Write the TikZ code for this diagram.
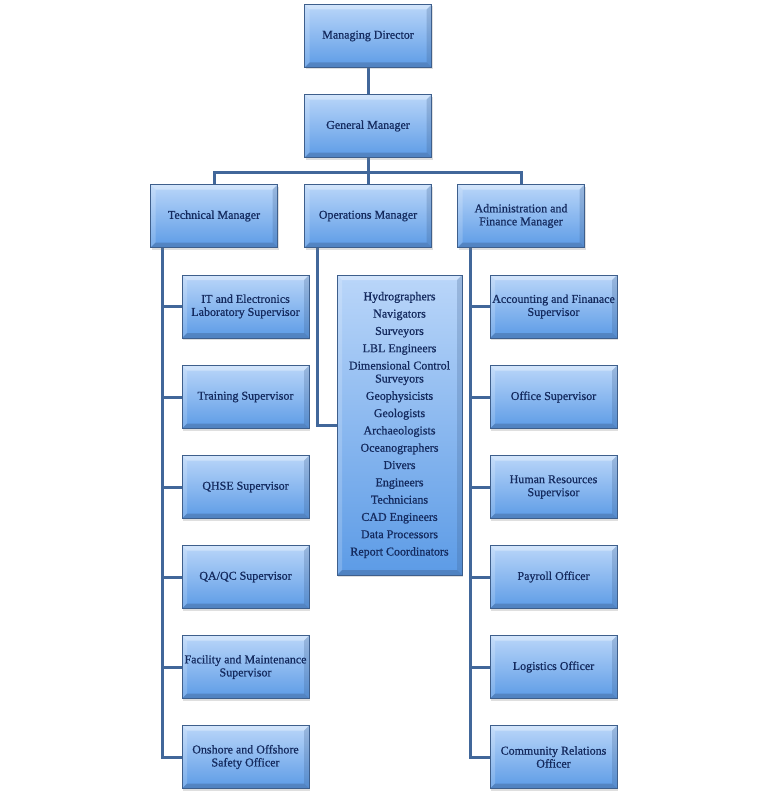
\documentclass[tikz,border=0pt]{standalone}
\usepackage{fontspec}
\setmainfont{Liberation Serif}[BoldFont=Liberation Serif, BoldFeatures={FakeBold=0.8}]
\usetikzlibrary{shadows,backgrounds,calc}
\definecolor{boxtop}{HTML}{BAD6F9}
\definecolor{boxbot}{HTML}{5C9BE6}
\definecolor{boxedge}{HTML}{3E5F8C}
\definecolor{txt}{HTML}{142A5E}
\definecolor{wire}{HTML}{41679A}
\tikzset{
  orgbox/.style={draw=boxedge, line width=0.6pt, top color=boxtop, bottom color=boxbot,
    minimum width=127pt, minimum height=63pt, align=center, text=txt, inner sep=2pt,
    font=\fontsize{12}{13}\selectfont\bfseries,
    drop shadow={opacity=.25, shadow xshift=1pt, shadow yshift=-2pt},
    path picture={
      \fill[white,opacity=.35] (path picture bounding box.north west) -- (path picture bounding box.north east)
        -- ([shift={(-5pt,-5pt)}]path picture bounding box.north east) -- ([shift={(5pt,-5pt)}]path picture bounding box.north west) -- cycle;
      \fill[white,opacity=.18] (path picture bounding box.north west) -- ([shift={(5pt,-5pt)}]path picture bounding box.north west)
        -- ([shift={(5pt,5pt)}]path picture bounding box.south west) -- (path picture bounding box.south west) -- cycle;
      \fill[boxedge,opacity=.25] (path picture bounding box.north east) -- ([shift={(-5pt,-5pt)}]path picture bounding box.north east)
        -- ([shift={(-5pt,5pt)}]path picture bounding box.south east) -- (path picture bounding box.south east) -- cycle;
      \fill[boxedge,opacity=.4] (path picture bounding box.south west) -- ([shift={(5pt,5pt)}]path picture bounding box.south west)
        -- ([shift={(-5pt,5pt)}]path picture bounding box.south east) -- (path picture bounding box.south east) -- cycle;
    }},
  wires/.style={draw=wire, line width=3pt}
}
\begin{document}
\begin{tikzpicture}[x=1pt,y=-1pt]
\useasboundingbox (0,0) rectangle (767,800);
% top
\node[orgbox] (md) at (368,36) {Managing Director};
\node[orgbox] (gm) at (368,126) {General Manager};
\node[orgbox] (tm) at (214,216) {Technical Manager};
\node[orgbox] (om) at (368,216) {Operations Manager};
\node[orgbox] (am) at (521,216) {Administration and\\Finance Manager};
% left column
\node[orgbox] (l1) at (245.5,306.5) {IT and Electronics\\Laboratory Supervisor};
\node[orgbox] (l2) at (245.5,397) {Training Supervisor};
\node[orgbox] (l3) at (245.5,487) {QHSE Supervisor};
\node[orgbox] (l4) at (245.5,577) {QA/QC Supervisor};
\node[orgbox] (l5) at (245.5,667) {Facility and Maintenance\\Supervisor};
\node[orgbox] (l6) at (245.5,757) {Onshore and Offshore\\Safety Officer};
% right column
\node[orgbox] (r1) at (553.5,306.5) {Accounting and Finanace\\Supervisor};
\node[orgbox] (r2) at (553.5,397) {Office Supervisor};
\node[orgbox] (r3) at (553.5,487) {Human Resources\\Supervisor};
\node[orgbox] (r4) at (553.5,577) {Payroll Officer};
\node[orgbox] (r5) at (553.5,667) {Logistics Officer};
\node[orgbox] (r6) at (553.5,757) {Community Relations\\Officer};
% operations list
\node[orgbox, minimum width=125pt, minimum height=300pt] (ops) at (399.5,425)
 {Hydrographers\\[4.3pt] Navigators\\[4.3pt] Surveyors\\[4.3pt] LBL Engineers\\[4.3pt]
  Dimensional Control\\ Surveyors\\[4.3pt] Geophysicists\\[4.3pt] Geologists\\[4.3pt]
  Archaeologists\\[4.3pt] Oceanographers\\[4.3pt] Divers\\[4.3pt] Engineers\\[4.3pt]
  Technicians\\[4.3pt] CAD Engineers\\[4.3pt] Data Processors\\[4.3pt] Report Coordinators};
% connectors
\begin{scope}[on background layer]
\fill[white] (0,0) rectangle (767,800);
\coordinate (bus) at (368,172);
\coordinate (ls) at ([xshift=12pt]tm.south west);
\coordinate (os) at ([xshift=13pt]om.south west);
\coordinate (rs) at ([xshift=13pt]am.south west);
\draw[wires] (md.south) -- (gm.north);
\draw[wires] (gm.south) -- (bus);
\draw[wires] (tm.north) |- (bus) -| (am.north);
\draw[wires] (bus) -- (om.north);
\draw[wires] (ls) |- (l6.west);
\foreach \n in {l1,l2,l3,l4,l5} \draw[wires] (ls |- \n.west) -- (\n.west);
\draw[wires] (os) |- (ops.west);
\draw[wires] (rs) |- (r6.west);
\foreach \n in {r1,r2,r3,r4,r5} \draw[wires] (rs |- \n.west) -- (\n.west);
\end{scope}
\end{tikzpicture}
\end{document}
